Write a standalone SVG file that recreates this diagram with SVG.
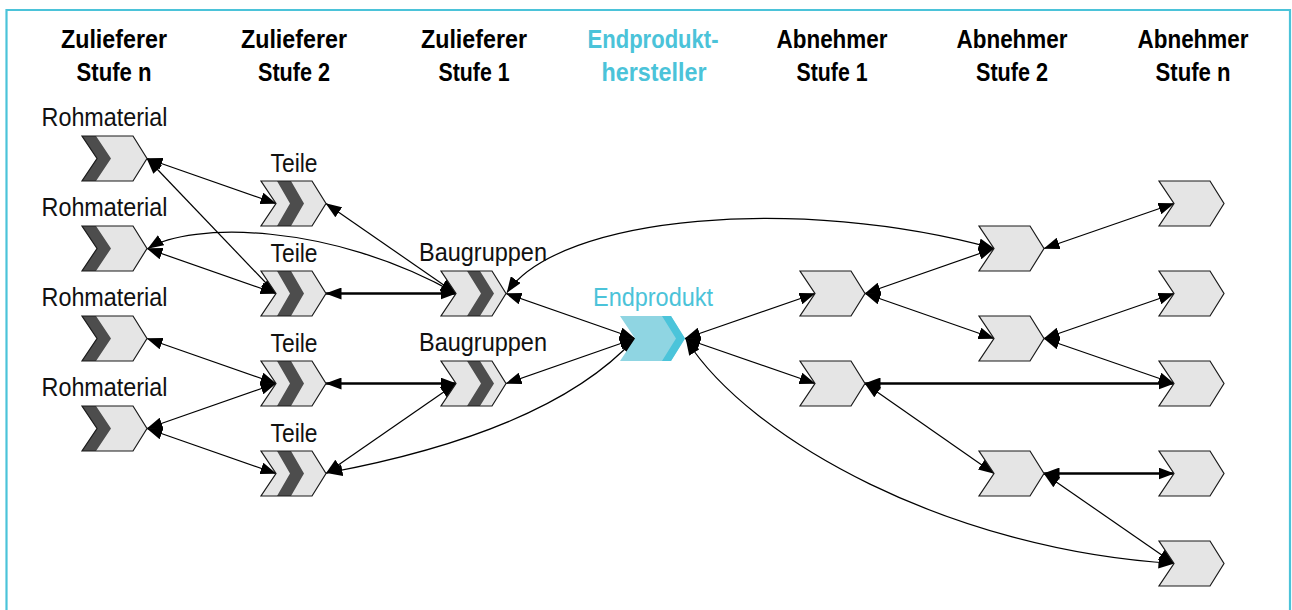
<svg xmlns="http://www.w3.org/2000/svg" xmlns:xlink="http://www.w3.org/1999/xlink" width="1292" height="610" viewBox="0 0 1292 610">
  <style>
    .head { font-family: "Liberation Sans", Arial, sans-serif; font-weight: bold; font-size: 26px; text-anchor: middle; fill: #000; }
    .head.accent { fill: #4bc3d9; }
    .lbl { font-family: "Liberation Sans", Arial, sans-serif; font-size: 25px; text-anchor: middle; fill: #111; }
    .lbl.accent { fill: #4bc3d9; }
    .body { fill: #e5e5e5; }
    .edge { fill: none; stroke: #1a1a1a; stroke-width: 1.2; stroke-linejoin: miter; }
    .band { fill: #4d4d4d; }
    .link { fill: none; stroke: #000; stroke-width: 1.2; marker-start: url(#head); marker-end: url(#head); }
    .link.bold { stroke-width: 2.6; }
  </style>
  <defs>
    <marker id="head" viewBox="0 0 16 12" markerUnits="userSpaceOnUse" markerWidth="16" markerHeight="12" refX="15.5" refY="6" orient="auto-start-reverse">
      <path d="M0,0 L16,6 L0,12 Z" fill="#000"/>
    </marker>
    <path id="chev" d="M0,0 H51 L65,22.5 L51,45 H0 L15,22.5 Z"/>
    <!-- raw material: dark band on the rear edge -->
    <g id="raw">
      <use xlink:href="#chev" class="body"/>
      <polygon class="band" points="0,0 14,0 29,22.5 14,45 0,45 15,22.5"/>
      <use xlink:href="#chev" class="edge"/>
    </g>
    <!-- parts: dark band just behind the rear edge -->
    <g id="part">
      <use xlink:href="#chev" class="body"/>
      <polygon class="band" points="16,0 30,0 43,22.5 30,45 16,45 29,22.5"/>
      <use xlink:href="#chev" class="edge"/>
    </g>
    <!-- assemblies: dark band towards the front -->
    <g id="assy">
      <use xlink:href="#chev" class="body"/>
      <polygon class="band" points="26,0 39,0 53,22.5 39,45 26,45 40,22.5"/>
      <use xlink:href="#chev" class="edge"/>
    </g>
    <!-- final product -->
    <g id="final">
      <use xlink:href="#chev" fill="#8fd5e2"/>
      <polygon fill="#4bc4da" points="42,0 51,0 65,22.5 51,45 42,45 56,22.5"/>
    </g>
    <!-- customer -->
    <g id="cust">
      <use xlink:href="#chev" class="body"/>
      <use xlink:href="#chev" class="edge"/>
    </g>
  </defs>

  <!-- frame -->
  <path d="M6.5,610 V10 H1290 V610" fill="none" stroke="#4bc3d9" stroke-width="2.2"/>

  <!-- column headings -->
  <g id="headings">
    <text class="head" x="114" y="48" textLength="106" lengthAdjust="spacingAndGlyphs">Zulieferer</text>
    <text class="head" x="114" y="81" textLength="75" lengthAdjust="spacingAndGlyphs">Stufe n</text>
    <text class="head" x="294" y="48" textLength="106" lengthAdjust="spacingAndGlyphs">Zulieferer</text>
    <text class="head" x="294" y="81" textLength="72" lengthAdjust="spacingAndGlyphs">Stufe 2</text>
    <text class="head" x="474" y="48" textLength="106" lengthAdjust="spacingAndGlyphs">Zulieferer</text>
    <text class="head" x="474" y="81" textLength="71" lengthAdjust="spacingAndGlyphs">Stufe 1</text>
    <text class="head accent" x="653" y="48" textLength="131" lengthAdjust="spacingAndGlyphs">Endprodukt-</text>
    <text class="head accent" x="654" y="81" textLength="105" lengthAdjust="spacingAndGlyphs">hersteller</text>
    <text class="head" x="832" y="48" textLength="111" lengthAdjust="spacingAndGlyphs">Abnehmer</text>
    <text class="head" x="832" y="81" textLength="71" lengthAdjust="spacingAndGlyphs">Stufe 1</text>
    <text class="head" x="1012" y="48" textLength="111" lengthAdjust="spacingAndGlyphs">Abnehmer</text>
    <text class="head" x="1012" y="81" textLength="72" lengthAdjust="spacingAndGlyphs">Stufe 2</text>
    <text class="head" x="1193" y="48" textLength="111" lengthAdjust="spacingAndGlyphs">Abnehmer</text>
    <text class="head" x="1193" y="81" textLength="75" lengthAdjust="spacingAndGlyphs">Stufe n</text>
  </g>

  <!-- connectors -->
  <g id="connectors">
    <path class="link" d="M147,158.5 L276,203.5"/>
    <path class="link" d="M147,158.5 L276,293.5"/>
    <path class="link" d="M147,248.5 L276,293.5"/>
    <path class="link" d="M148,248.5 C190,222 330,222 456,293.5"/>
    <path class="link" d="M147,338.5 L276,383.5"/>
    <path class="link" d="M147,428.5 L276,383.5"/>
    <path class="link" d="M147,428.5 L276,473.5"/>
    <path class="link" d="M326,203.5 L456,293.5"/>
    <path class="link bold" d="M326,293.5 L456,293.5"/>
    <path class="link bold" d="M326,383.5 L456,383.5"/>
    <path class="link" d="M326,473.5 L456,383.5"/>
    <path class="link" d="M327,473 C450,450 570,410 635,338.5"/>
    <path class="link" d="M506,293.5 L635,338.5"/>
    <path class="link" d="M506,383.5 L635,338.5"/>
    <path class="link" d="M507,292.5 C560,215 800,195 994,248.5"/>
    <path class="link" d="M685,338.5 L815,293.5"/>
    <path class="link" d="M685,338.5 L815,383.5"/>
    <path class="link" d="M686,339.5 C750,440 950,550 1174,563.5"/>
    <path class="link" d="M865,293.5 L994,248.5"/>
    <path class="link" d="M865,293.5 L994,338.5"/>
    <path class="link bold" d="M865,383.5 L1174,383.5"/>
    <path class="link" d="M865,383.5 L994,473.5"/>
    <path class="link" d="M1044,248.5 L1174,203.5"/>
    <path class="link" d="M1044,338.5 L1174,293.5"/>
    <path class="link" d="M1044,338.5 L1174,383.5"/>
    <path class="link bold" d="M1044,473.5 L1174,473.5"/>
    <path class="link" d="M1044,473.5 L1174,563.5"/>
  </g>

  <!-- tier n suppliers -->
  <g id="raw1"><use xlink:href="#raw" x="82" y="136"/><text class="lbl" x="104.5" y="126" textLength="126" lengthAdjust="spacingAndGlyphs">Rohmaterial</text></g>
  <g id="raw2"><use xlink:href="#raw" x="82" y="226"/><text class="lbl" x="104.5" y="216" textLength="126" lengthAdjust="spacingAndGlyphs">Rohmaterial</text></g>
  <g id="raw3"><use xlink:href="#raw" x="82" y="316"/><text class="lbl" x="104.5" y="306" textLength="126" lengthAdjust="spacingAndGlyphs">Rohmaterial</text></g>
  <g id="raw4"><use xlink:href="#raw" x="82" y="406"/><text class="lbl" x="104.5" y="396" textLength="126" lengthAdjust="spacingAndGlyphs">Rohmaterial</text></g>

  <!-- tier 2 suppliers -->
  <g id="part1"><use xlink:href="#part" x="261" y="181"/><text class="lbl" x="294" y="172" textLength="47" lengthAdjust="spacingAndGlyphs">Teile</text></g>
  <g id="part2"><use xlink:href="#part" x="261" y="271"/><text class="lbl" x="294" y="262" textLength="47" lengthAdjust="spacingAndGlyphs">Teile</text></g>
  <g id="part3"><use xlink:href="#part" x="261" y="361"/><text class="lbl" x="294" y="352" textLength="47" lengthAdjust="spacingAndGlyphs">Teile</text></g>
  <g id="part4"><use xlink:href="#part" x="261" y="451"/><text class="lbl" x="294" y="442" textLength="47" lengthAdjust="spacingAndGlyphs">Teile</text></g>

  <!-- tier 1 suppliers -->
  <g id="assy1"><use xlink:href="#assy" x="441" y="271"/><text class="lbl" x="483" y="261" textLength="128" lengthAdjust="spacingAndGlyphs">Baugruppen</text></g>
  <g id="assy2"><use xlink:href="#assy" x="441" y="361"/><text class="lbl" x="483" y="351" textLength="128" lengthAdjust="spacingAndGlyphs">Baugruppen</text></g>

  <!-- manufacturer -->
  <g id="final-product"><use xlink:href="#final" x="620" y="316"/><text class="lbl accent" x="653" y="306" textLength="120" lengthAdjust="spacingAndGlyphs">Endprodukt</text></g>

  <!-- customers tier 1 -->
  <g id="cust1a"><use xlink:href="#cust" x="800" y="271"/></g>
  <g id="cust1b"><use xlink:href="#cust" x="800" y="361"/></g>

  <!-- customers tier 2 -->
  <g id="cust2a"><use xlink:href="#cust" x="979" y="226"/></g>
  <g id="cust2b"><use xlink:href="#cust" x="979" y="316"/></g>
  <g id="cust2c"><use xlink:href="#cust" x="979" y="451"/></g>

  <!-- customers tier n -->
  <g id="custNa"><use xlink:href="#cust" x="1159" y="181"/></g>
  <g id="custNb"><use xlink:href="#cust" x="1159" y="271"/></g>
  <g id="custNc"><use xlink:href="#cust" x="1159" y="361"/></g>
  <g id="custNd"><use xlink:href="#cust" x="1159" y="451"/></g>
  <g id="custNe"><use xlink:href="#cust" x="1159" y="541"/></g>
</svg>
